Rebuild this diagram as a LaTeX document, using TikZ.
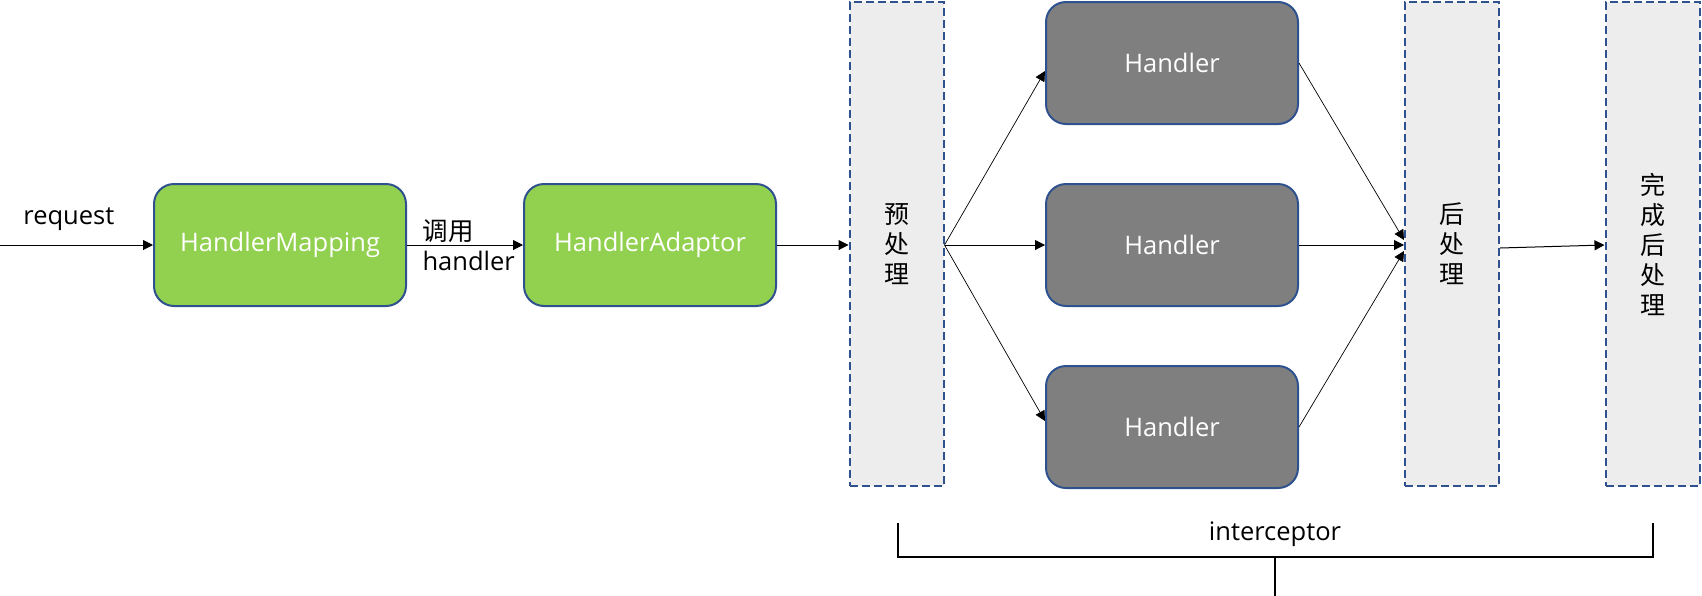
\documentclass[tikz,border=0pt]{standalone}
\usepackage{fontspec}
\setmainfont{Open Sans}
\newfontfamily\cjk{Noto Sans CJK SC}
\usepackage{tikz}
\usetikzlibrary{arrows.meta,positioning,calc}
\definecolor{MapGreen}{HTML}{92D050}
\definecolor{HandlerGray}{HTML}{7F7F7F}
\definecolor{EdgeBlue}{HTML}{2F528F}
\definecolor{StageFill}{HTML}{EDEDED}

\begin{document}
\begin{tikzpicture}[x=1pt,y=-1pt,font=\fontsize{25.5}{30}\selectfont,>={Triangle[length=10pt,width=10pt]},
  proc/.style={draw=EdgeBlue,line width=2pt,rounded corners=20pt,minimum width=252pt,minimum height=122pt,text=white},
  stage/.style={draw=EdgeBlue,line width=2pt,dash pattern=on 8pt off 4pt,fill=StageFill,minimum width=94pt,minimum height=484pt,align=center,font=\fontsize{25}{30}\cjk},
  flow/.style={->,line width=1pt},
  fan/.style={->,line width=0.7pt}]
  \useasboundingbox (0,0) rectangle (1702,595);
  \node[proc,fill=MapGreen] (map) at (280,245) {HandlerMapping};
  \node[proc,fill=MapGreen,right=116pt of map] (adapt) {HandlerAdaptor};
  \node[stage] (pre) at (896.5,244) {预\\处\\理};
  \node[proc,fill=HandlerGray] (h2) at (1172,245) {Handler};
  \node[proc,fill=HandlerGray,above=58pt of h2] (h1) {Handler};
  \node[proc,fill=HandlerGray,below=58pt of h2] (h3) {Handler};
  \node[stage] (post) at (1452,244) {后\\处\\理};
  \node[stage] (done) at (1652.5,244) {完\\成\\后\\处\\理};
  \coordinate (in) at (0,245);
  \draw[flow] (in) -- node[above=11pt,pos=0.45] (req) {request} (map);
  \node[right=12pt of map,align=left] (call) {{\cjk 调用}\\handler};
  \draw[flow] (map) -- (adapt);
  \draw[flow] (adapt) -- (pre.west |- adapt);
  % fan out to the handlers
  \draw[fan] (pre.east |- h2) -- ($(h1.west)+(0,8)$);
  \draw[flow] (pre.east |- h2) -- (h2.west);
  \draw[fan] (pre.east |- h2) -- ($(h3.west)+(0,-6)$);
  % and back in
  \draw[fan] (h1.east) -- ($(post.west)+(0,-4)$);
  \draw[flow] (h2.east) -- (post.west |- h2);
  \draw[fan] (h3.east) -- ($(post.west)+(0,7)$);
  \draw[flow] ($(post.east)+(0,4)$) -- (done.west |- h2);
  % bracket
  \coordinate (brL) at (898,523);
  \coordinate (brR) at (1653,523);
  \coordinate (stem) at (1275,557);
  \draw[line width=1.2pt] (brL) -- ++(0,34) -| (brR);
  \draw[line width=1.2pt] (stem) -- ++(0,40);
  \node (icpt) at (1275,534) {interceptor};
\end{tikzpicture}
\end{document}
